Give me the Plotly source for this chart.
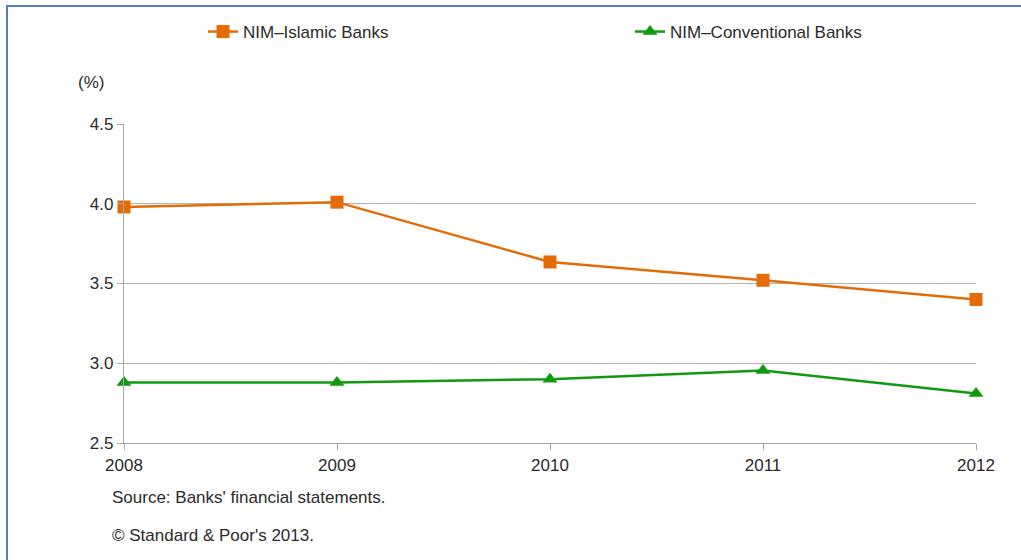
import plotly.graph_objects as go

years = ["2008", "2009", "2010", "2011", "2012"]
islamic = [3.98, 4.01, 3.635, 3.52, 3.40]
conventional = [2.88, 2.88, 2.90, 2.955, 2.81]
y_ticks = [2.5, 3.0, 3.5, 4.0, 4.5]
y_tick_labels = ["2.5", "3.0", "3.5", "4.0", "4.5"]

L, R, T, B = 124, 45, 124, 117
W, H = 1021, 560
pw, ph = W - L - R, H - T - B

def px(x):
    return (x - L) / pw

def py(y):
    return (H - B - y) / ph

fig = go.Figure()
fig.add_trace(go.Scatter(
    x=years, y=islamic, name="NIM\u2013Islamic Banks", mode="lines+markers",
    line=dict(color="#E36C09", width=2.5),
    marker=dict(symbol="square", size=13, color="#E36C09"),
    legend="legend", cliponaxis=False,
))
fig.add_trace(go.Scatter(
    x=years, y=conventional, name="NIM\u2013Conventional Banks", mode="lines+markers",
    line=dict(color="#109A10", width=2.5),
    marker=dict(symbol="triangle-up", size=13, color="#109A10"),
    legend="legend2", cliponaxis=False,
))

font = "Liberation Sans, Arial, sans-serif"
txt = "#2B2B2B"
leg_common = dict(orientation="h", xanchor="left", yanchor="middle",
                  font=dict(family=font, size=17, color=txt),
                  bgcolor="rgba(0,0,0,0)")
fig.update_layout(
    width=W, height=H,
    margin=dict(l=L, r=R, t=T, b=B, autoexpand=False),
    paper_bgcolor="white", plot_bgcolor="white",
    font=dict(family=font, size=17, color=txt),
    showlegend=True,
    legend=dict(x=px(203), y=py(32), **leg_common),
    legend2=dict(x=px(630), y=py(32), **leg_common),
    xaxis=dict(
        type="category", range=[0, 4], showgrid=False,
        showline=True, linecolor="#A6A6A6", linewidth=1.2,
        ticks="outside", ticklen=6, tickcolor="#A6A6A6",
        tickfont=dict(size=17, color=txt), fixedrange=True,
    ),
    yaxis=dict(
        range=[2.5, 4.5], tickvals=y_ticks, ticktext=y_tick_labels,
        showgrid=True, gridcolor="#B3B3B3", gridwidth=1.2,
        showline=True, linecolor="#A6A6A6", linewidth=1.2,
        ticks="outside", ticklen=6, tickcolor="#A6A6A6",
        tickfont=dict(size=17, color=txt), zeroline=False, fixedrange=True,
    ),
    annotations=[
        dict(text="(%)", x=px(76), y=py(82), xref="paper", yref="paper",
             xanchor="left", yanchor="middle", showarrow=False,
             font=dict(family=font, size=17, color=txt)),
        dict(text="Source: Banks' financial statements.", x=px(110), y=py(497),
             xref="paper", yref="paper", xanchor="left", yanchor="middle",
             showarrow=False, font=dict(family=font, size=17, color=txt)),
        dict(text="\u00a9 Standard &amp; Poor's 2013.", x=px(110), y=py(535),
             xref="paper", yref="paper", xanchor="left", yanchor="middle",
             showarrow=False, font=dict(family=font, size=17, color=txt)),
    ],
    shapes=[
        dict(type="rect", xref="paper", yref="paper",
             x0=px(7), x1=px(1040), y0=py(6), y1=py(580),
             line=dict(color="#4F81BD", width=2), fillcolor="rgba(0,0,0,0)"),
    ],
)

fig.write_html("out.html")
